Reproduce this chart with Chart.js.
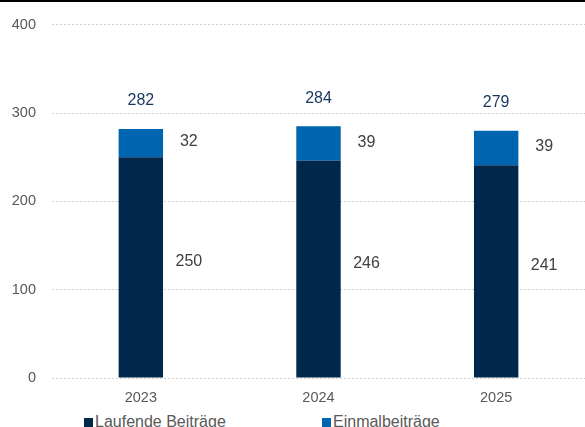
<!DOCTYPE html>
<html>
<head>
<meta charset="utf-8">
<script src="https://cdn.jsdelivr.net/npm/chart.js@4"></script>
<style>
    html, body { margin: 0; padding: 0; background: #fff; overflow: hidden; }
    body { width: 585px; height: 427px; position: relative; font-family: 'Liberation Sans', Arial, sans-serif; }
    .topline { position: absolute; left: 0; top: 0; width: 585px; height: 2px; background: #000; z-index: 2; }
    .wrap { position: absolute; left: 0; top: 0; width: 585px; height: 410px; }
    .legend { position: absolute; top: 412px; left: 0; width: 585px; height: 20px; font-size: 16px; color: #595959; }
    .legend span { position: absolute; top: 0; line-height: 20px; white-space: nowrap; }
    .legend i { position: absolute; top: 6px; width: 9px; height: 9px; }
</style>
</head>
<body>
<div class="topline"></div>
<div class="wrap"><canvas id="mainChart"></canvas></div>
<div class="legend" id="legend"></div>
<script>
// Daten
const years = ['2023', '2024', '2025'];
const laufende = [250, 246, 241];
const einmal = [32, 39, 39];
const gesamt = [282, 284, 279];
const seriesNames = ['Laufende Beiträge', 'Einmalbeiträge'];
const yTicks = [0, 100, 200, 300, 400];

const NAVY = '#00284D';
const BLUE = '#0065B0';
const FONT = "'Liberation Sans', Arial, sans-serif";

// Werte neben den Balken + Summe darüber
const barLabels = {
    id: 'barLabels',
    afterDatasetsDraw(chart) {
        const c = chart.ctx;
        c.save();
        c.font = '16px ' + FONT;
        c.textAlign = 'center';
        c.textBaseline = 'middle';
        const offs = [-6, -1];
        chart.data.datasets.forEach((ds, di) => {
            const meta = chart.getDatasetMeta(di);
            meta.data.forEach((el, i) => {
                c.fillStyle = '#404040';
                c.fillText(String(ds.data[i]), el.x + 48, (el.y + el.base) / 2 + offs[di]);
            });
        });
        const top = chart.getDatasetMeta(1);
        top.data.forEach((el, i) => {
            c.fillStyle = '#17375E';
            c.fillText(String(gesamt[i]), el.x, el.y - 28);
        });
        c.restore();
    }
};

const ctx = document.getElementById('mainChart').getContext('2d');
new Chart(ctx, {
    type: 'bar',
    data: {
        labels: years,
        datasets: [
            { label: seriesNames[0], data: laufende, backgroundColor: NAVY, borderWidth: 0 },
            { label: seriesNames[1], data: einmal, backgroundColor: BLUE, borderWidth: 0 },
        ],
    },
    options: {
        responsive: true, maintainAspectRatio: false, animation: false,
        layout: { padding: { top: 24, right: 0, left: 0, bottom: 0 } },
        categoryPercentage: 1, barPercentage: 0.25,
        plugins: { legend: { display: false }, tooltip: { enabled: false } },
        scales: {
            x: {
                stacked: true,
                grid: { display: false, drawTicks: false },
                border: { display: false },
                ticks: { color: '#595959', font: { size: 14.5, family: FONT }, padding: 11 },
                afterFit: (axis) => { axis.height = 32; },
            },
            y: {
                stacked: true, min: 0, max: 400,
                afterBuildTicks: (axis) => { axis.ticks = yTicks.map(v => ({ value: v })); },
                grid: { color: '#CFCFCF', drawTicks: false, lineWidth: 1 },
                border: { display: false, dash: [2, 2] },
                ticks: { color: '#595959', font: { size: 14.5, family: FONT }, padding: 16 },
                afterFit: (axis) => { axis.width = 52; },
            },
        },
    },
    plugins: [barLabels],
});

// Legende
const legendPos = [84, 322];
const legend = document.getElementById('legend');
seriesNames.forEach((name, i) => {
    const box = document.createElement('i');
    box.style.left = legendPos[i] + 'px';
    box.style.background = i === 0 ? NAVY : BLUE;
    const txt = document.createElement('span');
    txt.style.left = (legendPos[i] + 11) + 'px';
    txt.textContent = name;
    legend.appendChild(box);
    legend.appendChild(txt);
});
</script>
</body>
</html>
